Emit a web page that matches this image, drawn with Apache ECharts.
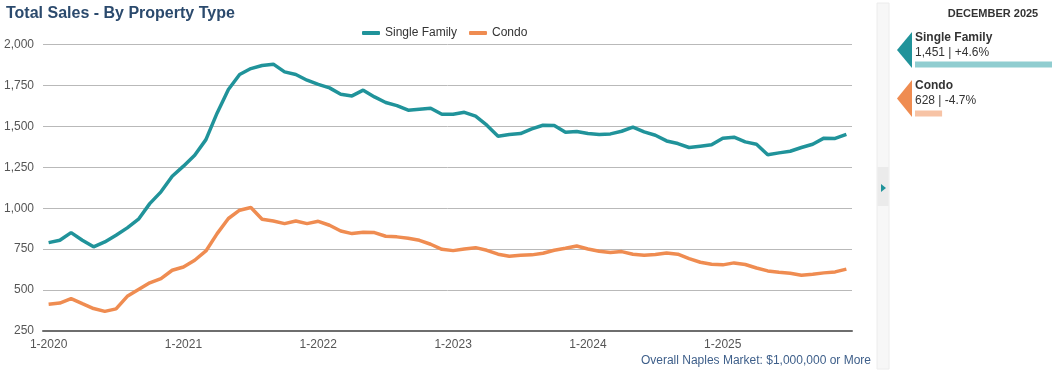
<!DOCTYPE html>
<html><head><meta charset="utf-8">
<script src="https://cdn.jsdelivr.net/npm/echarts@6/dist/echarts.min.js"></script>
<style>html,body{margin:0;padding:0;background:#fff}#c{width:1052px;height:370px}</style>
</head><body><div id="c"></div>
<script>
const months = [];
for (let y = 2020; y <= 2025; y++) for (let m = 1; m <= 12; m++) months.push(m + '-' + y);
const singleFamily = [790,804,851,804,764,794,835,880,933,1028,1100,1195,
 1257,1324,1419,1582,1725,1817,1853,1872,1880,1833,1817,1782,
 1756,1735,1696,1686,1721,1680,1646,1627,1599,1605,1611,1574,
 1574,1586,1562,1507,1440,1450,1456,1485,1507,1505,1464,1468,
 1456,1450,1454,1470,1495,1466,1446,1411,1395,1371,1379,1387,
 1428,1434,1405,1391,1326,1338,1348,1371,1391,1428,1426,1451];
const condo = [413,421,448,417,387,370,385,462,503,544,570,621,
 641,682,739,845,937,988,1004,933,922,906,922,906,
 920,896,861,845,853,851,829,825,817,804,780,749,
 741,751,759,743,719,707,713,715,725,743,755,769,
 751,737,729,735,719,713,717,727,719,692,670,658,
 654,666,656,635,617,609,603,591,597,605,611,628];
const yTicks = [250, 2000, 250];
const panelNames = ['Single Family', 'Condo'];
const panelValues = [1451, 628];
const panelChanges = ['+4.6%', '-4.7%'];
const panelTitle = 'DECEMBER 2025';
const TEAL = '#20939a', ORANGE = '#ef8c51';

const chart = echarts.init(document.getElementById('c'), null, {renderer: 'canvas'});
const fmt = v => v.toLocaleString('en-US');
chart.setOption({
  animation: false,
  textStyle: {fontFamily: 'Liberation Sans, Arial, sans-serif'},
  title: {text: 'Total Sales - By Property Type', left: 1, top: 1,
    textStyle: {fontSize: 16, fontWeight: 'bold', color: '#2b4a6d'}},
  legend: {top: 22, left: 357, data: ['Single Family', 'Condo'],
    icon: 'roundRect', itemWidth: 18, itemHeight: 4, itemGap: 12,
    textStyle: {fontSize: 12, color: '#333'}},
  grid: [
    {left: 43, right: 200, top: 44.5, bottom: 39, containLabel: false},
    {left: 915, right: 0, top: 40, height: 98}
  ],
  xAxis: [
    {type: 'category', data: months, boundaryGap: true, gridIndex: 0,
     axisLine: {lineStyle: {color: '#6e6e6e', width: 2}},
     axisTick: {alignWithLabel: true, interval: 11, length: 4, lineStyle: {color: '#6e6e6e', width: 2}},
     axisLabel: {interval: 11, color: '#555', fontSize: 12, margin: 8}},
    {type: 'value', gridIndex: 1, min: 425, max: 1451, show: false}
  ],
  yAxis: [
    {type: 'value', min: yTicks[0], max: yTicks[1], interval: yTicks[2], gridIndex: 0,
     axisLine: {show: false}, axisTick: {show: false},
     axisLabel: {color: '#555', fontSize: 12, margin: 9, formatter: v => fmt(v)},
     splitLine: {lineStyle: {color: '#b9b9b9', width: 1}}},
    {type: 'category', gridIndex: 1, data: panelNames, inverse: true, show: false}
  ],
  series: [
    {name: 'Single Family', type: 'line', data: singleFamily, symbol: 'none',
     lineStyle: {color: TEAL, width: 3.5}, itemStyle: {color: TEAL}},
    {name: 'Condo', type: 'line', data: condo, symbol: 'none',
     lineStyle: {color: ORANGE, width: 3.5}, itemStyle: {color: ORANGE}},
    {type: 'bar', xAxisIndex: 1, yAxisIndex: 1, barWidth: 6, silent: true,
     data: panelValues.map((v, i) => ({value: v, itemStyle: {color: i === 0 ? '#90cdd0' : '#f7c3a5'}}))}
  ],
  graphic: [
    {type: 'rect', shape: {x: 877, y: 3, width: 12, height: 366}, style: {fill: '#f7f7f7', stroke: '#ececec', lineWidth: 1}},
    {type: 'rect', shape: {x: 877.5, y: 167, width: 11, height: 39}, style: {fill: '#ebebeb'}},
    {type: 'polygon', shape: {points: [[881, 184], [886, 188], [881, 192]]}, style: {fill: TEAL}},
    {type: 'text', x: 993, y: 14, style: {text: panelTitle, font: 'bold 11px "Liberation Sans", Arial', fill: '#333', align: 'center', verticalAlign: 'middle'}},
    {type: 'polygon', shape: {points: [[912, 32], [897, 50], [912, 68]]}, style: {fill: TEAL}},
    {type: 'polygon', shape: {points: [[912, 80], [897, 98.5], [912, 117]]}, style: {fill: ORANGE}},
    {type: 'text', x: 915, y: 38, style: {text: panelNames[0], font: 'bold 12px "Liberation Sans", Arial', fill: '#333', verticalAlign: 'middle'}},
    {type: 'text', x: 915, y: 52.5, style: {text: fmt(panelValues[0]) + ' | ' + panelChanges[0], font: '12px "Liberation Sans", Arial', fill: '#333', verticalAlign: 'middle'}},
    {type: 'text', x: 915, y: 86, style: {text: panelNames[1], font: 'bold 12px "Liberation Sans", Arial', fill: '#333', verticalAlign: 'middle'}},
    {type: 'text', x: 915, y: 101, style: {text: fmt(panelValues[1]) + ' | ' + panelChanges[1], font: '12px "Liberation Sans", Arial', fill: '#333', verticalAlign: 'middle'}},
    {type: 'text', x: 871, y: 361, style: {text: 'Overall Naples Market: $1,000,000 or More', font: '12px "Liberation Sans", Arial', fill: '#3e5f8a', align: 'right', verticalAlign: 'middle'}}
  ]
});
</script></body></html>
